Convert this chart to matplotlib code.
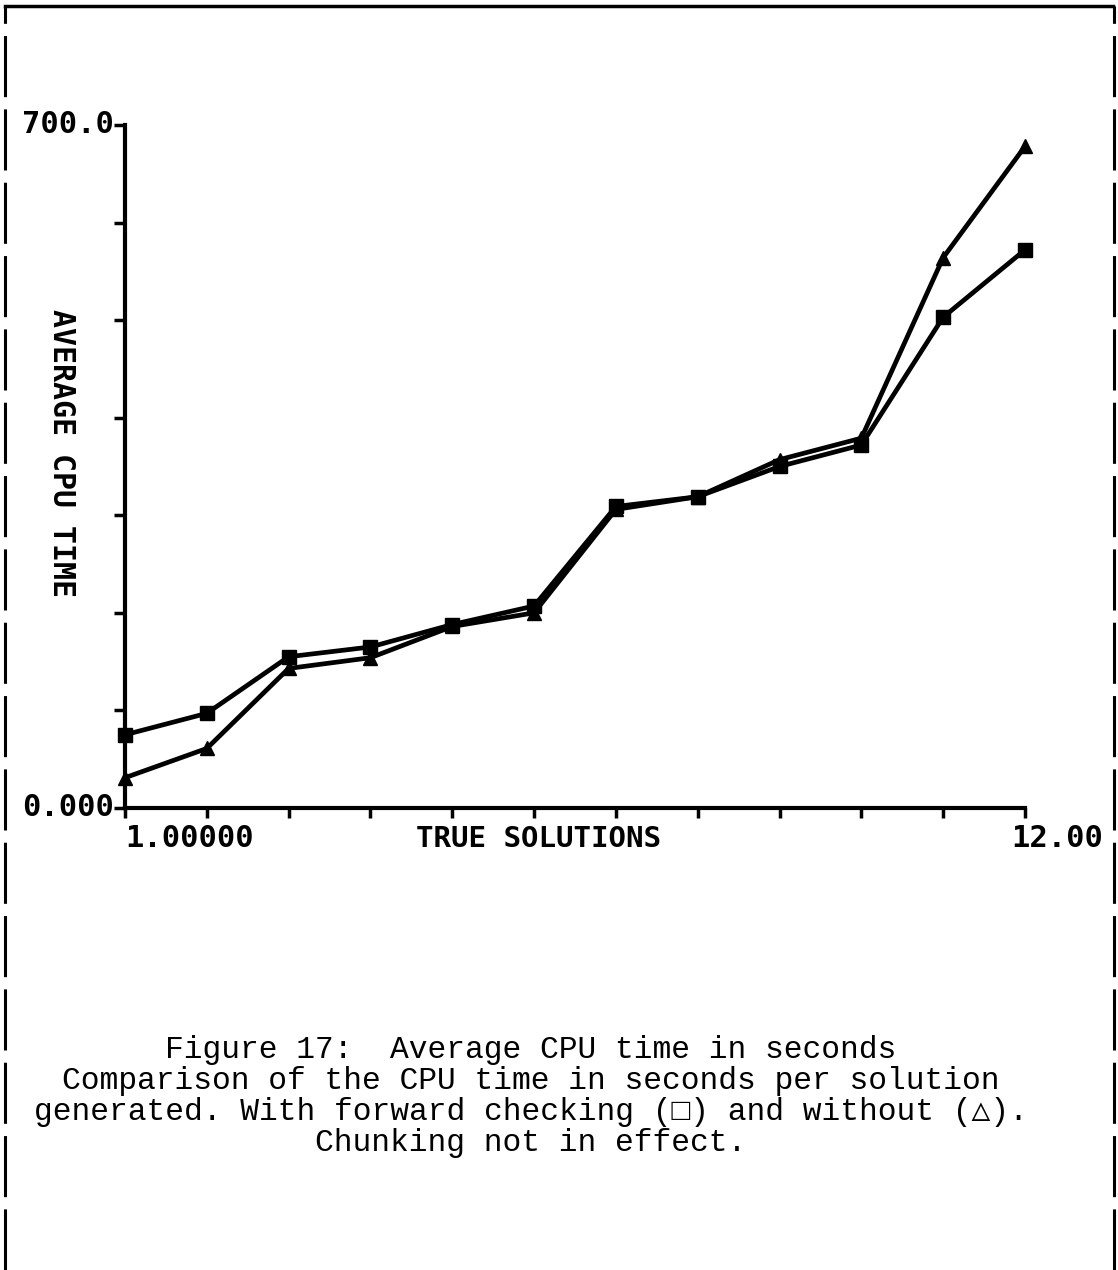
import matplotlib
matplotlib.use("Agg")
import matplotlib.pyplot as plt
from matplotlib.lines import Line2D

# data
solutions = [1, 2, 3, 4, 5, 6, 7, 8, 9, 10, 11, 12]
cpu_forward = [75, 97, 155, 165, 188, 207, 309, 319, 350, 372, 503, 572]
cpu_without = [31, 61, 143, 154, 186, 200, 306, 319, 357, 379, 564, 678]

y_tick_values = [0, 100, 200, 300, 400, 500, 600, 700]
caption = ["Figure 17:  Average CPU time in seconds",
           "Comparison of the CPU time in seconds per solution",
           "generated. With forward checking (\u25a1) and without (\u25b3).",
           "Chunking not in effect."]

plot_font = ["DejaVu Sans Mono"]
text_font = ["Liberation Mono", "DejaVu Sans Mono"]

fig = plt.figure(figsize=(11.18, 12.70), dpi=100)
ax = fig.add_axes([0.1118, 0.3638, 0.805, 0.5378])

ax.plot(solutions, cpu_forward, color="black", lw=3.4, marker="s", ms=10,
        solid_joinstyle="round", solid_capstyle="round", clip_on=False)
ax.plot(solutions, cpu_without, color="black", lw=3.4, marker="^", ms=10,
        solid_joinstyle="round", solid_capstyle="round", clip_on=False)

ax.set_xlim(1, 12)
ax.set_ylim(0, 700)
ax.set_xticks(solutions)
ax.set_yticks(y_tick_values)
ax.set_xticklabels([])
ax.set_yticklabels([])
ax.tick_params(axis="x", direction="out", length=7, width=2.5)
ax.tick_params(axis="y", direction="out", length=8, width=2.5)
for side in ["top", "right"]:
    ax.spines[side].set_visible(False)
for side in ["left", "bottom"]:
    ax.spines[side].set_linewidth(3)
ax.patch.set_visible(False)

# end labels, plotter style
ax.text(-0.012, 1.0, "700.0", transform=ax.transAxes, ha="right", va="center",
        fontsize=22, fontweight="bold", family=plot_font)
ax.text(-0.012, 0.0, "0.000", transform=ax.transAxes, ha="right", va="center",
        fontsize=22, fontweight="bold", family=plot_font)
ax.text(0.0, -0.045, "1.00000", transform=ax.transAxes, ha="left", va="center",
        fontsize=22, fontweight="bold", family=plot_font)
ax.text(0.985, -0.045, "12.00", transform=ax.transAxes, ha="left", va="center",
        fontsize=22, fontweight="bold", family=plot_font)
ax.text(0.46, -0.045, "TRUE SOLUTIONS", transform=ax.transAxes, ha="center",
        va="center", fontsize=21, fontweight="bold", family=plot_font)
ax.text(-0.071, 0.52, "AVERAGE CPU TIME", transform=ax.transAxes, ha="center",
        va="center", rotation=270, fontsize=21.5, fontweight="bold",
        family=plot_font)

# caption
for i, line in enumerate(caption):
    fig.text(0.475, 1 - (1050 + 31 * i) / 1270, line, ha="center", va="center",
             fontsize=22.5, family=text_font)

# page frame: solid top, dashed sides
fig.add_artist(Line2D([5 / 1118, 1113 / 1118], [1 - 6 / 1270] * 2,
                      transform=fig.transFigure, color="black", lw=2.5))
for xpos in [5 / 1118, 1114 / 1118]:
    fig.add_artist(Line2D([xpos, xpos], [0, 1 - 6 / 1270],
                          transform=fig.transFigure, color="black", lw=2.2,
                          dashes=(20, 4)))

fig.savefig("out.png", dpi=100, facecolor="white")
